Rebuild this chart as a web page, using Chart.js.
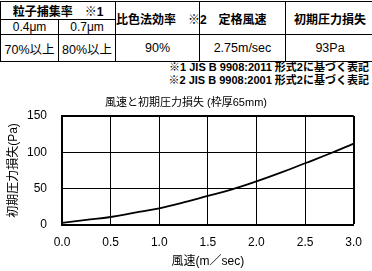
<!DOCTYPE html>
<html lang="ja">
<head>
<meta charset="UTF-8">
<title>風速と初期圧力損失</title>
<style>
    body {
        margin: 0;
        padding: 0;
        width: 372px;
        height: 271px;
        overflow: hidden;
        background: #fff;
        font-family: "Liberation Sans", "Noto Sans CJK JP", sans-serif;
        color: #000;
        position: relative;
    }
    table.spec {
        position: absolute;
        left: 0;
        top: 1px;
        border-collapse: collapse;
        table-layout: fixed;
        width: 374px;
        font-size: 12px;
    }
    table.spec td {
        border: 1px solid #000;
        text-align: center;
        padding: 0;
        white-space: nowrap;
    }
    .h1 { height: 17px; font-weight: bold; }
    .h2 { height: 14px; }
    .d  { height: 26px; font-size: 12.5px; }
    .b  { font-weight: bold; }
    .notes {
        position: absolute;
        right: 3px;
        top: 61px;
        font-size: 11px;
        font-weight: bold;
        line-height: 12.5px;
        text-align: right;
        white-space: nowrap;
    }
    .chart-box {
        position: absolute;
        left: 0;
        top: 88px;
        width: 372px;
        height: 183px;
    }
</style>
</head>
<body>
<table class="spec">
    <colgroup>
        <col style="width:58px"><col style="width:57px"><col style="width:84px"><col style="width:86px"><col style="width:89px">
    </colgroup>
    <tr>
        <td class="h1" colspan="2">粒子捕集率　※1</td>
        <td class="b" rowspan="2">比色法効率　※2</td>
        <td class="b" rowspan="2">定格風速</td>
        <td class="b" rowspan="2">初期圧力損失</td>
    </tr>
    <tr>
        <td class="h2">0.4μm</td>
        <td class="h2">0.7μm</td>
    </tr>
    <tr>
        <td class="d">70%以上</td>
        <td class="d">80%以上</td>
        <td class="d">90%</td>
        <td class="d">2.75m/sec</td>
        <td class="d">93Pa</td>
    </tr>
</table>
<div class="notes">※1 JIS B 9908:2011 形式2に基づく表記<br>※2 JIS B 9908:2001 形式2に基づく表記</div>

<div class="chart-box"><canvas id="lossChart" width="372" height="183"></canvas></div>

<script src="https://cdn.jsdelivr.net/npm/chart.js"></script>
<script>
// 風速 (m/sec) と 初期圧力損失 (Pa)
const airSpeed = [0, 0.25, 0.5, 0.75, 1.0, 1.25, 1.5, 1.75, 2.0, 2.25, 2.5, 2.75, 3.0];
const pressureLoss = [3, 7, 11, 17, 23, 31, 40, 49, 60, 72, 85, 98, 112];

const chartTitle = '風速と初期圧力損失 (枠厚65mm)';
const xTitle = '風速(m／sec)';
const yTitle = '初期圧力損失(Pa)';

const jpFont = '"Liberation Sans", "Noto Sans CJK JP", sans-serif';

const ctx = document.getElementById('lossChart').getContext('2d');
new Chart(ctx, {
    type: 'line',
    data: {
        datasets: [{
            data: airSpeed.map((v, i) => ({ x: v, y: pressureLoss[i] })),
            borderColor: '#000',
            borderWidth: 1.8,
            pointRadius: 0,
            tension: 0.4,
            fill: false
        }]
    },
    options: {
        responsive: false,
        animation: false,
        layout: { padding: 0 },
        plugins: {
            legend: { display: false },
            tooltip: { enabled: false },
            title: {
                display: true,
                text: chartTitle,
                color: '#000',
                font: { family: jpFont, size: 11, weight: 'normal' },
                padding: { top: 8, bottom: 6.8 }
            }
        },
        scales: {
            x: {
                type: 'linear',
                min: 0,
                max: 3,
                ticks: {
                    stepSize: 0.5,
                    color: '#000',
                    padding: 10,
                    font: { family: jpFont, size: 12 },
                    callback: v => v.toFixed(1)
                },
                grid: {
                    color: '#000',
                    drawTicks: false,
                    lineWidth: c => (c.tick && c.tick.value === 3 ? 2 : 1)
                },
                border: { color: '#000', width: 2 },
                title: {
                    display: true,
                    text: xTitle,
                    color: '#000',
                    font: { family: jpFont, size: 12 },
                    padding: { top: 0, bottom: 2 }
                },
                afterFit: s => { s.height = 46; }
            },
            y: {
                min: 0,
                max: 150,
                ticks: {
                    stepSize: 50,
                    color: '#000',
                    padding: 15,
                    font: { family: jpFont, size: 12 }
                },
                grid: {
                    color: '#000',
                    drawTicks: false,
                    lineWidth: c => (c.tick && c.tick.value === 150 ? 2 : 1)
                },
                border: { color: '#000', width: 2 },
                title: {
                    display: true,
                    text: yTitle,
                    color: '#000',
                    font: { family: jpFont, size: 12 },
                    padding: { top: 6, bottom: 0 }
                },
                afterFit: s => { s.width = 62; }
            }
        }
    }
});
</script>
</body>
</html>
